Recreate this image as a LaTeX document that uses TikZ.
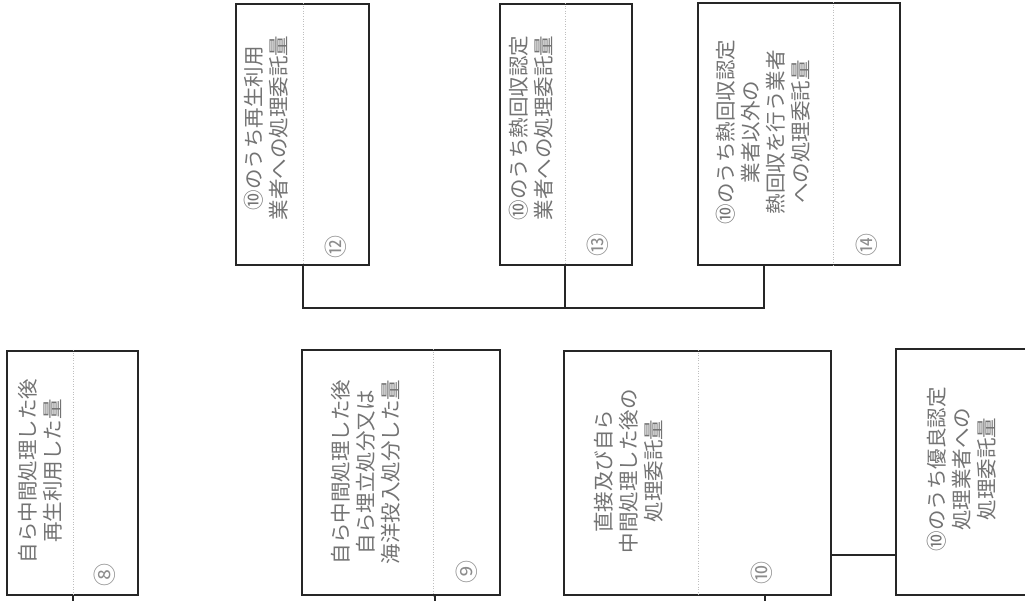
\documentclass[tikz,border=0pt]{standalone}
\usepackage{fontspec}
\newfontfamily\jp{Noto Sans CJK JP}
\begin{document}
\begin{tikzpicture}[x=1pt,y=-1pt,
  box/.style={draw=black!85, line width=2.2pt, inner sep=0pt},
  conn/.style={draw=black!85, line width=2pt},
  divider/.style={draw=black!25, line width=0.6pt, dotted},
  label/.style={rotate=90, align=center, text=black!55, font=\jp\fontsize{20.5}{25}\selectfont, inner sep=0pt},
  num/.style={rotate=90, text=black!45, font=\jp\fontsize{23}{23}\selectfont, inner sep=0pt}]
\clip (0,0) rectangle (1025,600);
\fill[white] (0,0) rectangle (1025,600);

% top row boxes
\node[box, minimum width=133pt, minimum height=261pt] (b12) at (302.5,134.5) {};
\node[box, minimum width=132pt, minimum height=261pt] (b13) at (566,134.5) {};
\node[box, minimum width=202pt, minimum height=262pt] (b14) at (799,134) {};
% bottom row boxes
\node[box, minimum width=131pt, minimum height=244pt] (b8) at (72.5,473) {};
\node[box, minimum width=198pt, minimum height=245pt] (b9) at (401,472.5) {};
\node[box, minimum width=267pt, minimum height=244pt] (b10) at (697.5,473) {};
\node[box, minimum width=200pt, minimum height=246pt] (b11) at (996,472) {};

% dividers
\draw[divider] ([xshift=0.5]b12.north) -- ([xshift=0.5]b12.south);
\draw[divider] ([xshift=-1]b13.north) -- ([xshift=-1]b13.south);
\draw[divider] ([xshift=34]b14.north) -- ([xshift=34]b14.south);
\draw[divider] ([xshift=0.5]b8.north) -- ([xshift=0.5]b8.south);
\draw[divider] ([xshift=32]b9.north) -- ([xshift=32]b9.south);
\draw[divider] ([xshift=0.5]b10.north) -- ([xshift=0.5]b10.south);

% texts
\node[label] (t12) at (266,128) {⑩のうち再生利用\\業者への処理委託量};
\node[label] (t13) at (531.5,128) {⑩のうち熱回収認定\\業者への処理委託量};
\node[label] (t14) at (763,132) {⑩のうち熱回収認定\\業者以外の\\熱回収を行う業者\\への処理委託量};
\node[label] (t8) at (40,471) {自ら中間処理した後\\再生利用した量};
\node[label] (t9) at (366,472) {自ら中間処理した後\\自ら埋立処分又は\\海洋投入処分した量};
\node[label] (t10) at (629,471) {直接及び自ら\\中間処理した後の\\処理委託量};
\node[label] (t11) at (962,469) {⑩のうち優良認定\\処理業者への\\処理委託量};

% circled numbers
\node[num] (n12) at (336,247) {⑫};
\node[num] (n13) at (598,245) {⑬};
\node[num] (n14) at (867,245) {⑭};
\node[num] (n8) at (105,575) {⑧};
\node[num] (n9) at (467,572) {⑨};
\node[num] (n10) at (762,573) {⑩};

% connectors top
\draw[conn] ([xshift=0.5]b12.south) -- ++(0,42) coordinate (j) -| ([xshift=-35]b14.south);
\draw[conn] ([xshift=-1]b13.south) coordinate (s13) |- (j);
% connector b10 - b11
\draw[conn] ([yshift=-82]b10.east) coordinate (c) -- (c -| b11.west);
% stubs at bottom
\draw[conn] ([xshift=0.5]b8.south) -- ++(0,12);
\draw[conn] ([xshift=34]b9.south) -- ++(0,12);
\draw[conn] ([xshift=67.5]b10.south) -- ++(0,12);
\end{tikzpicture}
\end{document}
